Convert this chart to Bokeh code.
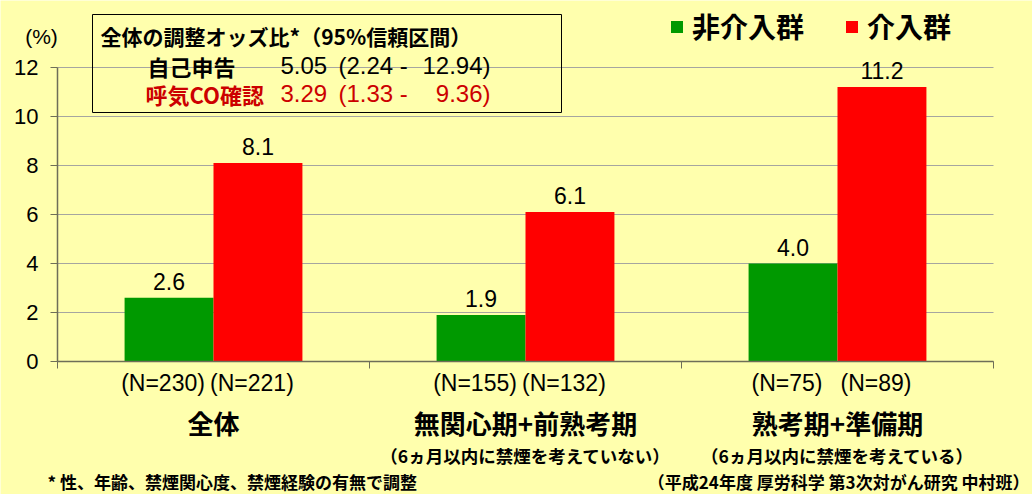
from bokeh.plotting import figure
from bokeh.models import (Range1d, FixedTicker, LabelSet, Label, ColumnDataSource,
                          BoxAnnotation, Legend, LegendItem)
from bokeh.core.properties import value
from bokeh.embed import file_html
from bokeh.resources import INLINE
import numpy as np

# ---------------- data ----------------
categories = ["全体", "無関心期+前熟考期", "熟考期+準備期"]
subtitles = ["", "（6ヵ月以内に禁煙を考えていない）", "（6ヵ月以内に禁煙を考えている）"]
series_names = ["非介入群", "介入群"]
non_intervention = [2.6, 1.9, 4.0]
intervention = [8.1, 6.1, 11.2]
n_non = [230, 155, 75]
n_int = [221, 132, 89]
or_title = "全体の調整オッズ比*（95%信頼区間）"
or_methods = ["自己申告", "呼気CO確認"]
or_values = [5.05, 3.29]
ci_low = [2.24, 1.33]
ci_high = [12.94, 9.36]
y_ticks = [0, 2, 4, 6, 8, 10, 12]
y_unit = "(%)"
footnote_left = "* 性、年齢、禁煙関心度、禁煙経験の有無で調整"
footnote_right = "（平成24年度 厚労科学 第3次対がん研究 中村班）"

# ---------------- styles / layout ----------------
W, H = 1032, 494
BG = "#FFFFAD"
AX = "#6E6E58"
GRID = "#A6A6A0"
GREEN = "#009900"
RED = "#FF0000"
DARKRED = "#CC0000"
JP = "Noto Sans CJK JP"
LAT = "Liberation Sans"

# plot area in page pixels
PX0, PX1 = 57, 993      # x = 0 .. 3
PY0, PY1 = 361, 67      # y = 0 .. 12
xs = (PX1 - PX0) / 3.0
ys = (PY0 - PY1) / 12.0
x_range = Range1d(-PX0 / xs, 3 + (W - PX1) / xs)
y_range = Range1d(-(H - PY0) / ys, PY0 / ys)


def sy(py):
    return H - py


centers = np.arange(len(categories)) + 0.5
off = 0.1425
bw = 0.285

p = figure(width=W, height=H, x_range=x_range, y_range=y_range,
           output_backend="svg", toolbar_location=None, min_border=0,
           background_fill_color=BG, border_fill_color=BG, outline_line_color=None)

# y axis
p.yaxis.fixed_location = 0
p.yaxis.bounds = (0, 12)
p.yaxis.ticker = FixedTicker(ticks=y_ticks)
p.yaxis.major_label_text_font = LAT
p.yaxis.major_label_text_font_size = "22px"
p.yaxis.major_label_text_color = "black"
p.yaxis.axis_line_color = AX
p.yaxis.axis_line_width = 1.5
p.yaxis.major_tick_line_color = AX
p.yaxis.major_tick_out = 7
p.yaxis.major_tick_in = 0
p.yaxis.minor_tick_line_color = None
p.yaxis.major_label_standoff = 12
p.ygrid.grid_line_color = GRID
p.ygrid.bounds = (0, 12)
if "cross_bounds" in p.ygrid[0].properties():
    p.ygrid.cross_bounds = (0, 3)
p.xgrid.grid_line_color = None

# x axis
p.xaxis.fixed_location = 0
p.xaxis.bounds = (0, 3)
p.xaxis.ticker = FixedTicker(ticks=[float(c) for c in centers], minor_ticks=[0, 1, 2, 3])
p.xaxis.major_label_overrides = {float(c): cat for c, cat in zip(centers, categories)}
p.xaxis.major_tick_line_color = None
p.xaxis.major_tick_out = 0
p.xaxis.major_tick_in = 0
p.xaxis.minor_tick_out = 7
p.xaxis.minor_tick_in = 0
p.xaxis.minor_tick_line_color = AX
p.xaxis.axis_line_color = AX
p.xaxis.axis_line_width = 1.5
p.xaxis.major_label_text_font = JP
p.xaxis.major_label_text_font_style = "bold"
p.xaxis.major_label_text_font_size = "26px"
p.xaxis.major_label_text_color = "black"
p.xaxis.major_label_standoff = 35

# bars
src1 = ColumnDataSource(dict(x=centers - off, top=non_intervention,
                             lab=[f"{v:.1f}" for v in non_intervention],
                             n=[f"(N={n})" for n in n_non]))
src2 = ColumnDataSource(dict(x=centers + off, top=intervention,
                             lab=[f"{v:.1f}" for v in intervention],
                             n=[f"(N={n})" for n in n_int]))
r1 = p.vbar(x="x", top="top", width=bw, bottom=0, source=src1, fill_color=GREEN, line_color=None)
r2 = p.vbar(x="x", top="top", width=bw, bottom=0, source=src2, fill_color=RED, line_color=None)

for s in (src1, src2):
    p.text(x="x", y="top", text="lab", source=s, text_align="center", text_baseline="bottom",
           y_offset=-8, text_font=value(LAT), text_font_size="23px", text_color="black")
    p.add_layout(LabelSet(x="x", y=0, text="n", source=s, x_offset=-6, y_offset=-21,
                          text_align="center", text_baseline="middle",
                          text_font=value(LAT), text_font_size="23px", text_color="black"))

cat_src = ColumnDataSource(dict(x=centers, sub=subtitles))
p.add_layout(LabelSet(x="x", y=0, text="sub", source=cat_src, y_offset=-94,
                      text_align="center", text_baseline="middle",
                      text_font=value(JP), text_font_style="bold", text_font_size="17.5px",
                      text_color="black"))

# unit label
p.add_layout(Label(x=41, y=sy(36), x_units="screen", y_units="screen", text=y_unit,
                   text_align="center", text_baseline="middle",
                   text_font=LAT, text_font_size="21px", text_color="black"))

# odds ratio box
p.add_layout(BoxAnnotation(left=92, right=561, top=sy(14), bottom=sy(112),
                           left_units="screen", right_units="screen",
                           top_units="screen", bottom_units="screen",
                           fill_color=None, line_color="black", line_alpha=1.0,
                           line_width=1))
p.add_layout(Label(x=100, y=sy(35), x_units="screen", y_units="screen", text=or_title,
                   text_align="left", text_baseline="middle", text_font=JP,
                   text_font_style="bold", text_font_size="21px", text_color="black"))
row_y = [65, 93]
row_x = [147, 145]
row_col = ["black", DARKRED]
for i in range(2):
    yy = sy(row_y[i])
    p.add_layout(Label(x=row_x[i], y=yy, x_units="screen", y_units="screen",
                       text=or_methods[i], text_align="left", text_baseline="middle",
                       text_font=JP, text_font_style="bold", text_font_size="22px",
                       text_color=row_col[i]))
    p.add_layout(Label(x=280, y=yy, x_units="screen", y_units="screen",
                       text=f"{or_values[i]:.2f}", text_align="left", text_baseline="middle",
                       text_font=LAT, text_font_size="24px", text_color=row_col[i]))
    p.add_layout(Label(x=338, y=yy, x_units="screen", y_units="screen",
                       text=f"({ci_low[i]:.2f} -", text_align="left", text_baseline="middle",
                       text_font=LAT, text_font_size="24px", text_color=row_col[i]))
    p.add_layout(Label(x=490, y=yy, x_units="screen", y_units="screen",
                       text=f"{ci_high[i]:.2f})", text_align="right", text_baseline="middle",
                       text_font=LAT, text_font_size="24px", text_color=row_col[i]))

# legend
legend = Legend(items=[LegendItem(label=series_names[0], renderers=[r1]),
                       LegendItem(label=series_names[1], renderers=[r2])],
                orientation="horizontal", location=(669, sy(46)),
                glyph_width=15, glyph_height=15, label_standoff=8, spacing=40,
                padding=0, margin=0, border_line_color=None, background_fill_alpha=0,
                label_text_font=JP, label_text_font_style="bold",
                label_text_font_size="28px", label_text_color="black")
p.add_layout(legend)

# footnotes
p.add_layout(Label(x=47, y=sy(481), x_units="screen", y_units="screen", text=footnote_left,
                   text_align="left", text_baseline="middle", text_font=JP,
                   text_font_style="bold", text_font_size="17px", text_color="black"))
p.add_layout(Label(x=1029, y=sy(481), x_units="screen", y_units="screen", text=footnote_right,
                   text_align="right", text_baseline="middle", text_font=JP,
                   text_font_style="bold", text_font_size="17px", text_color="black"))

open("out.html", "w").write(file_html(p, INLINE))
